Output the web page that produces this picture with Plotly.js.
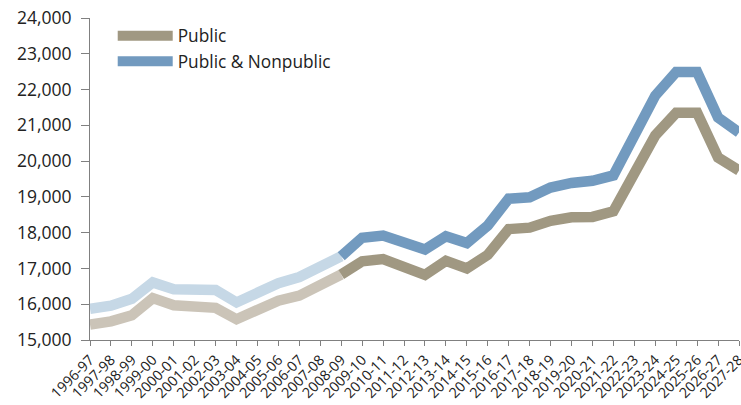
<!DOCTYPE html>
<html>
<head>
<meta charset="utf-8">
<script src="https://cdn.plot.ly/plotly-3.0.1.min.js"></script>
<style>html,body{margin:0;padding:0;background:#fff;}#chart{width:741px;height:405px;}</style>
</head>
<body>
<div id="chart"></div>
<script>
const categories = ["1996-97","1997-98","1998-99","1999-00","2000-01","2001-02","2002-03","2003-04","2004-05","2005-06","2006-07","2007-08","2008-09","2009-10","2010-11","2011-12","2012-13","2013-14","2014-15","2015-16","2016-17","2017-18","2018-19","2019-20","2020-21","2021-22","2022-23","2023-24","2024-25","2025-26","2026-27","2027-28"];
const publicVals = [15430,15520,15690,16170,15970,15910,15900,15580,15810,16100,16240,16560,16830,17200,17260,17060,16820,17210,17000,17380,18100,18140,18330,18430,18440,18600,19680,20720,21350,21350,20100,19740];
const totalVals = [15870,15960,16150,16610,16420,16390,16400,16050,16330,16590,16760,17080,17340,17860,17920,17740,17530,17900,17710,18200,18950,18990,19260,19390,19450,19600,20720,21830,22490,22490,21220,20800];
const splitLabel = "2008-09";
const seriesNames = ["Public","Public & Nonpublic"];

const si = categories.indexOf(splitLabel);
const colors = {
  pubLight: "#cbc4b8", pubDark: "#a09882",
  totLight: "#c6d8e6", totDark: "#729abf"
};
const lw = 10.5;
function seg(vals, a, b){ return {x: categories.slice(a,b), y: vals.slice(a,b)}; }

const traces = [
  Object.assign(seg(publicVals,0,si+1), {type:"scatter",mode:"lines",line:{color:colors.pubLight,width:lw},showlegend:false,hoverinfo:"skip"}),
  Object.assign(seg(totalVals,0,si+1), {type:"scatter",mode:"lines",line:{color:colors.totLight,width:lw},showlegend:false,hoverinfo:"skip"}),
  Object.assign(seg(publicVals,si,categories.length), {type:"scatter",mode:"lines",name:seriesNames[0],legendgroup:"a",line:{color:colors.pubDark,width:lw}}),
  Object.assign(seg(totalVals,si,categories.length), {type:"scatter",mode:"lines",name:seriesNames[1],legendgroup:"b",line:{color:colors.totDark,width:lw}})
];

const fam = "'Open Sans', 'Noto Sans', sans-serif";
const layout = {
  width:741, height:405,
  margin:{l:90, r:2, t:18, b:65},
  paper_bgcolor:"#fff", plot_bgcolor:"#fff",
  font: {family:fam, color:"#222", size:17},
  showlegend:true,
  legend:{x:0.035, y:1.0, xanchor:"left", yanchor:"top", bgcolor:"rgba(0,0,0,0)", itemwidth:55,
    font:{size:17.3,color:"#222",family:fam}, traceorder:"grouped", tracegroupgap:0},
  xaxis:{type:"category", categoryorder:"array", categoryarray:categories, range:[0, categories.length-1],
    showline:true, linecolor:"#808080", linewidth:1, ticks:"outside", ticklen:5, tickcolor:"#808080",
    tickangle:-45, tickfont:{size:14.3, color:"#222", family:fam}, showgrid:false, zeroline:false, fixedrange:true},
  yaxis:{range:[15000,24000], dtick:1000, tickformat:",d", showline:true, linecolor:"#808080", linewidth:1,
    ticks:"outside", ticklen:8, tickcolor:"#808080", ticklabelstandoff:6,
    tickfont:{size:17.5, color:"#222", family:fam}, showgrid:false, zeroline:false, fixedrange:true}
};
Plotly.newPlot("chart", traces, layout, {displayModeBar:false, staticPlot:true});
</script>
</body>
</html>
